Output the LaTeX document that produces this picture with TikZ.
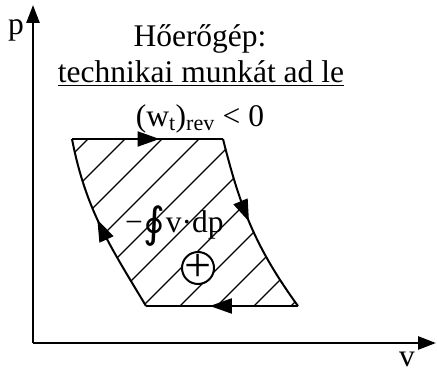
\documentclass[tikz,border=0pt]{standalone}
\usepackage{fontspec}
\setmainfont{Liberation Serif}
\newfontfamily\intfont{DejaVu Sans}
\usetikzlibrary{arrows.meta,decorations.markings}

\tikzset{
  every node/.style={font=\fontsize{31.5}{36}\selectfont},
  axis/.style={line width=2.7pt,-{Triangle[length=18pt,width=13pt]}},
  border/.style={line width=2pt},
  hatch/.style={line width=1.3pt},
  flowarrow/.style={postaction={decorate,decoration={markings,
    mark=at position #1 with {\arrow{Triangle[length=22pt,width=15pt]}}}}},
}

\begin{document}
\begin{tikzpicture}[x=1pt,y=1pt]
\useasboundingbox (0,0) rectangle (437,373);
% axes
\coordinate (O) at (33,30);
\coordinate (ptop) at (33,368);
\coordinate (vend) at (436,30);
\draw[axis] (O) -- (ptop);
\draw[axis] (O) -- (vend);
\node (plab) at (16,343) {p};
\node (vlab) at (407,14) {v};
% cycle corners
\coordinate (A) at (72,234);
\coordinate (B) at (223,234);
\coordinate (C) at (298,67);
\coordinate (D) at (146,67);
% hatching
\begin{scope}
\clip (A) -- (B) to[out=-76,in=126] (C) -- (D) to[out=121,in=-79] (A) -- cycle;
\foreach \k in {0,...,10}
  \draw[hatch] (40,{186-37*\k}) -- (330,{476-37*\k});
\end{scope}
% cycle
\draw[border,flowarrow=0.58] (A) -- (B);
\draw[border,flowarrow=0.47] (B) to[out=-76,in=126] (C);
\draw[border,flowarrow=0.58] (C) -- (D);
\draw[border,flowarrow=0.54] (D) to[out=121,in=-79] (A);
% labels
\node[anchor=base] (title) at (200,326) {Hőerőgép:};
\node[anchor=base] (sub) at (201,290) {\underline{technikai munkát ad le}};
\node[anchor=base] (ineq) at (200,246) {(w\textsubscript{t})\textsubscript{rev} < 0};
\node[anchor=base west,inner sep=0pt] (integ) at (125,141)
  {−\hspace{1pt}\raisebox{-5pt}{\intfont\fontsize{42}{42}\selectfont ∮}v·dp};
\node[circle,draw,line width=2pt,fill=white,minimum size=32pt,inner sep=0pt] (plus) at (198,105) {};
\node[font=\fontsize{48}{48}\selectfont,inner sep=0pt] at (plus.center) {+};
\end{tikzpicture}
\end{document}
